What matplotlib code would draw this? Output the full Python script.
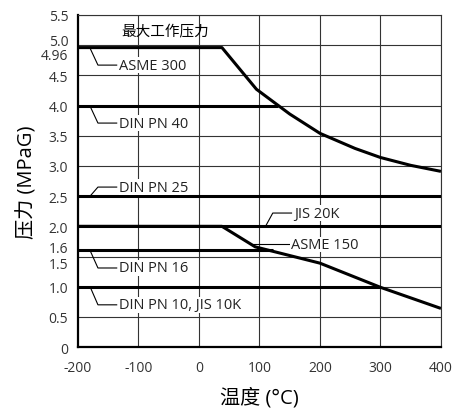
import matplotlib
matplotlib.use("Agg")
import matplotlib.pyplot as plt
import matplotlib.transforms as mtransforms

plt.rcParams['font.family'] = ['Open Sans', 'Noto Sans CJK SC', 'DejaVu Sans']
plt.rcParams['axes.unicode_minus'] = False

# curves (temperature in C, pressure in MPaG)
asme300_t = [-200, 38, 95, 150, 200, 258, 300, 350, 400]
asme300_p = [4.96, 4.96, 4.27, 3.86, 3.54, 3.29, 3.14, 3.01, 2.91]
asme150_t = [-200, 38, 93, 200, 300, 400]
asme150_p = [2.0, 2.0, 1.66, 1.39, 0.99, 0.64]
pn40_t = [-200, 130]
pn40_p = [4.0, 4.0]
pn25_t = [-200, 400]
pn25_p = [2.5, 2.5]
jis20k_t = [-200, 400]
jis20k_p = [2.0, 2.0]
pn16_t = [-200, 122]
pn16_p = [1.6, 1.6]
pn10_t = [-200, 300]
pn10_p = [1.0, 1.0]

x_ticks = [-200, -100, 0, 100, 200, 300, 400]
y_ticks = [0, 0.5, 1.0, 1.5, 1.6, 2.0, 2.5, 3.0, 3.5, 4.0, 4.5, 4.96, 5.0, 5.5]
y_labels = ['0', '0.5', '1.0', '1.5', '1.6', '2.0', '2.5', '3.0', '3.5', '4.0',
            '4.5', '4.96', '5.0', '5.5']

# label text, point on line, elbow point
callouts = [
    ("ASME 300", (-180, 4.95), (-167, 4.67)),
    ("DIN PN 40", (-180, 3.99), (-167, 3.71)),
    ("DIN PN 25", (-180, 2.5), (-167, 2.65)),
    ("DIN PN 16", (-180, 1.6), (-167, 1.31)),
    ("DIN PN 10, JIS 10K", (-180, 1.0), (-167, 0.70)),
    ("JIS 20K", (110, 2.0), (122, 2.22)),
]

fig = plt.figure(figsize=(4.56, 4.10), dpi=100)
ax = fig.add_axes([0.171, 0.151, 0.796, 0.810])

grid_c = '#333333'
for yv in [0.5, 1.0, 1.5, 2.0, 2.5, 3.0, 3.5, 4.0, 4.5, 5.0, 5.5]:
    ax.axhline(yv, color=grid_c, lw=0.8, zorder=1)
for xv in [-100, 0, 100, 200, 300, 400]:
    ax.axvline(xv, color=grid_c, lw=0.8, zorder=1)

lw = 2.2
for t, p in [(asme300_t, asme300_p), (asme150_t, asme150_p), (pn40_t, pn40_p),
             (pn25_t, pn25_p), (jis20k_t, jis20k_p), (pn16_t, pn16_p),
             (pn10_t, pn10_p)]:
    ax.plot(t, p, color='black', lw=lw, zorder=3, solid_capstyle='butt')

for label, start, elbow in callouts:
    ax.plot([start[0], elbow[0], elbow[0] + 31], [start[1], elbow[1], elbow[1]],
            color='black', lw=0.8, zorder=2)
    ax.text(elbow[0] + 35, elbow[1], label, fontsize=10.5, va='center', ha='left',
            color='#222222', zorder=4,
            bbox=dict(facecolor='white', edgecolor='none', pad=0.3))

# ASME 150 callout is a plain horizontal leader
ax.plot([85, 148], [1.70, 1.70], color='black', lw=0.8, zorder=2)
ax.text(152, 1.70, "ASME 150", fontsize=10.5, va='center', ha='left',
        color='#222222', zorder=4,
        bbox=dict(facecolor='white', edgecolor='none', pad=0.3))

ax.text(-56, 5.22, "最大工作压力", fontsize=10.5, fontweight='medium', ha='center',
        va='center', color='black')

ax.set_xlim(-200, 400)
ax.set_ylim(0, 5.5)
ax.set_xticks(x_ticks)
ax.set_yticks(y_ticks)
ax.set_yticklabels(y_labels)
ax.tick_params(length=0, labelsize=10, labelcolor='#333333')
ax.tick_params(axis='y', pad=7)
ax.tick_params(axis='x', pad=9)

# nudge crowded tick labels apart
shifts = {'5.0': 4, '4.96': -4, '1.6': 3, '1.5': -4}
for lab in ax.get_yticklabels():
    dy = shifts.get(lab.get_text())
    if dy:
        lab.set_transform(lab.get_transform() +
                          mtransforms.ScaledTranslation(0, dy / 72, fig.dpi_scale_trans))

for side in ['top', 'right']:
    ax.spines[side].set_linewidth(0.8)
    ax.spines[side].set_color(grid_c)
for side in ['left', 'bottom']:
    ax.spines[side].set_linewidth(1.6)
    ax.spines[side].set_color('black')

ax.set_xlabel("温度 (°C)", fontsize=14.5, labelpad=9)
ax.set_ylabel("压力 (MPaG)", fontsize=14.5, labelpad=2.5)

fig.savefig("out.png", dpi=100)
